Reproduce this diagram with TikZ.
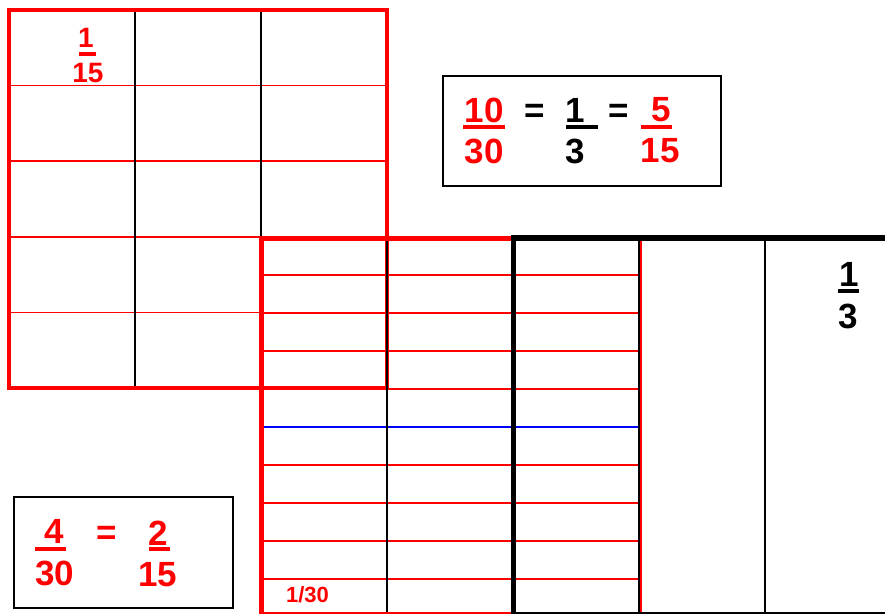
\documentclass[tikz,border=0pt]{standalone}
\usepackage{fontspec}
\setmainfont{Liberation Sans}
\usetikzlibrary{positioning}
\tikzset{
  dig/.style={inner sep=0pt,font=\bfseries\fontsize{35}{40}\selectfont},
  digs/.style={inner sep=0pt,font=\bfseries\fontsize{28}{32}\selectfont},
  digt/.style={inner sep=0pt,font=\bfseries\fontsize{22}{26}\selectfont},
  fbar/.style={line width=4pt},
  rthin/.style={red,line width=1.5pt},
  rmid/.style={red,line width=2pt},
  kthin/.style={black,line width=2pt},
  every picture/.style={line cap=butt,line join=miter}}

\begin{document}
\begin{tikzpicture}[x=1pt,y=-1pt]
  \useasboundingbox (0,0) rectangle (885,614);
  % fifteenths
  \draw[rthin] foreach \y in {85.6,161.2,236.8,312.4}{(9,\y) -- (387,\y)};
  \draw[kthin] (135,10) -- (135,388) (261,10) -- (261,237);
  \draw[red,line width=4pt] (9,10) rectangle (387,388);
  \node[digs,text=red] (n1) at (86,38){1};\node[digs,text=red] (d15) at (88,72.5){15};
  \draw[fbar,red] (79,54) -- (96,54);
  % thirtieths
  \draw[rmid] foreach \k in {1,2,3,4,6,7,8,9}{(262,237+38*\k) -- (639,237+38*\k)};
  \draw[blue,line width=2pt] (262,427) -- (639,427);
  \draw[kthin] (387,237) -- (387,614) (765,237) -- (765,614) (639,237) -- (639,614);
  \draw[red,line width=2.5pt] (641,237) -- (641,614);
  \draw[line width=5pt] (513.5,237) -- (513.5,614);
  \draw[red,line width=5pt] (259,238) -- (511,238);
  \draw[line width=6pt] (511,238) -- (885,238);
  \draw[red,line width=5pt] (261.5,238) -- (261.5,614);
  \draw[red,line width=2pt] (264,613) -- (511,613);
  \draw[line width=2pt] (511,613) -- (885,613);
  \node[digt,text=red] (t30) at (307.5,595){1/30};
  \node[dig] (n1b) at (849,274.5){1};\node[dig] (d3b) at (848.5,316){3};
  \draw[fbar] (838,291) -- (859,291);
  % equal fractions
  \draw[line width=2pt] (443,76) rectangle (721,186);
  \node[dig,text=red] (n10) at (484,110){10};\node[dig,text=red] (d30) at (484,151){30};
  \draw[fbar,red] (463,127) -- (505,127);
  \node[dig] (e1) at (535,113){=};
  \node[dig] (n1c) at (575.5,110){1};\node[dig] (d3c) at (575.5,151){3};
  \draw[fbar] (566,127) -- (598,127);
  \node[dig] (e2) at (619,113){=};
  \node[dig,text=red] (n5) at (661,110){5};\node[dig,text=red] (d15b) at (660,151){15};
  \draw[fbar,red] (641,127) -- (672,127);
  \draw[line width=2pt] (14,497) rectangle (233,608);
  \node[dig,text=red] (n4) at (54,531){4};\node[dig,text=red] (d30b) at (55,573.5){30};
  \draw[fbar,red] (35,549) -- (66,549);
  \node[dig,text=red] (e3) at (106.5,535.5){=};
  \node[dig,text=red] (n2) at (158.5,533){2};\node[dig,text=red] (d15c) at (158,575){15};
  \draw[fbar,red] (149,549) -- (170,549);
\end{tikzpicture}
\end{document}
